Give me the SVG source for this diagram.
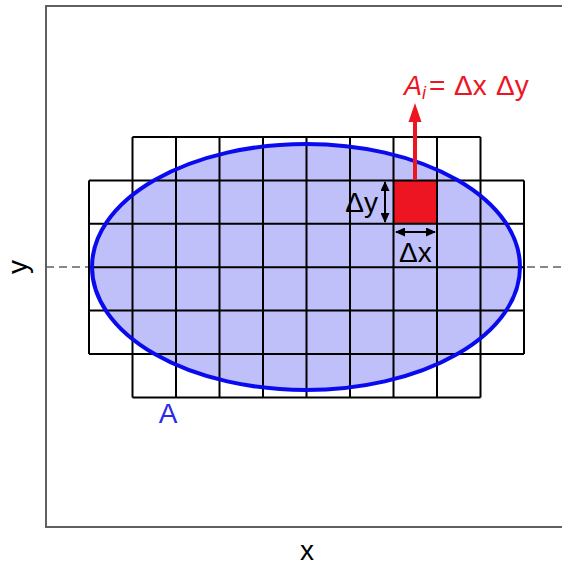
<svg xmlns="http://www.w3.org/2000/svg" width="562" height="565" viewBox="0 0 562 565">
<style>
.grid{fill:none;stroke:#000;stroke-width:2}
.lbl{font-family:"Liberation Sans",Arial,sans-serif;font-size:28px;fill:#000}
.red{fill:#ee1522}
</style>
<defs>
<marker id="ah" viewBox="0 0 10 10" refX="9" refY="5" markerWidth="5" markerHeight="4.5" orient="auto-start-reverse" markerUnits="strokeWidth" preserveAspectRatio="none">
<path d="M0,0 L10,5 L0,10 z" fill="#000"/>
</marker>
</defs>
<rect width="562" height="565" fill="#fff"/>
<g id="frame">
<path d="M565,6 H46 V527 H565" fill="none" stroke="#606060" stroke-width="2"/>
<line x1="46" y1="267" x2="562" y2="267" stroke="#606060" stroke-width="1.3" stroke-dasharray="8,5"/>
</g>
<g id="region-A">
<ellipse cx="306" cy="267" rx="214" ry="123" fill="#bfbffa"/>
</g>
<g id="element-Ai">
<rect x="393.5" y="180.4" width="43.5" height="43.4" class="red"/>
</g>
<g id="grid" class="grid">
<path d="M132.5,137 H480.5 M89,180.4 H524 M89,223.8 H524 M89,267.2 H524 M89,310.6 H524 M89,354 H524 M132.5,397.4 H480.5"/>
<path d="M89,180.4 V354 M524,180.4 V354 M132.5,137 V397.4 M176,137 V397.4 M219.5,137 V397.4 M263,137 V397.4 M306.5,137 V397.4 M350,137 V397.4 M393.5,137 V397.4 M437,137 V397.4 M480.5,137 V397.4"/>
</g>
<g id="region-A-outline">
<ellipse cx="306" cy="267" rx="214" ry="123" fill="none" stroke="#0a0aee" stroke-width="4"/>
</g>
<g id="connectors">
<line x1="385" y1="182" x2="385" y2="222" stroke="#000" stroke-width="2" marker-start="url(#ah)" marker-end="url(#ah)"/>
<line x1="396" y1="232" x2="435" y2="232" stroke="#000" stroke-width="2" marker-start="url(#ah)" marker-end="url(#ah)"/>
<line x1="415" y1="180" x2="415" y2="118" stroke="#ee1522" stroke-width="4"/>
<path d="M415,103 L421.5,122 L408.5,122 z" class="red"/>
</g>
<g id="labels">
<text class="lbl" x="378" y="212" text-anchor="end">Δy</text>
<text class="lbl" x="399" y="262">Δx</text>
<text class="lbl" style="fill:#ee1522" y="95"><tspan x="404" font-style="italic" font-size="27">A</tspan><tspan font-style="italic" font-size="18" dy="4">i</tspan><tspan x="429" dy="-4">=</tspan><tspan x="454">Δx</tspan><tspan x="496">Δy</tspan></text>
<text class="lbl" style="fill:#2a2aee" x="168" y="423" text-anchor="middle" font-size="26">A</text>
<text class="lbl" x="307" y="560" text-anchor="middle">x</text>
<text class="lbl" x="27" y="267" text-anchor="middle" transform="rotate(-90 27 267)">y</text>
</g>
</svg>
